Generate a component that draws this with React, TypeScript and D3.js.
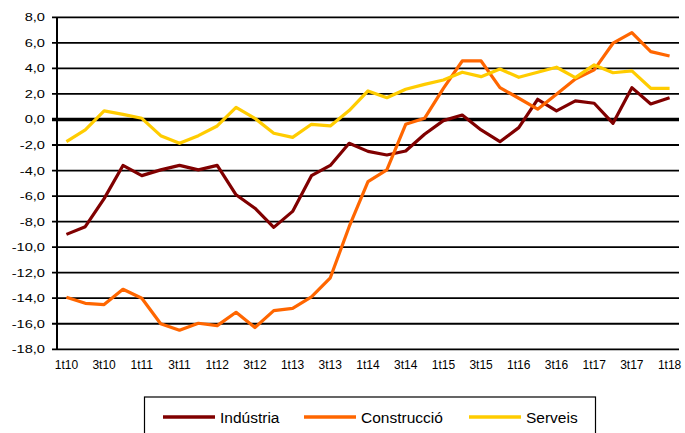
import { useEffect, useRef } from 'react';
import * as d3 from 'd3';

// quarters 1t10 .. 1t18
const quarters = [
  '1t10', '2t10', '3t10', '4t10', '1t11', '2t11', '3t11', '4t11',
  '1t12', '2t12', '3t12', '4t12', '1t13', '2t13', '3t13', '4t13',
  '1t14', '2t14', '3t14', '4t14', '1t15', '2t15', '3t15', '4t15',
  '1t16', '2t16', '3t16', '4t16', '1t17', '2t17', '3t17', '4t17', '1t18',
];

const industria = [
  -9.0, -8.4, -6.2, -3.6, -4.4, -3.95, -3.6, -3.95, -3.6, -5.9, -6.95,
  -8.45, -7.2, -4.4, -3.6, -1.87, -2.5, -2.78, -2.47, -1.16, -0.09, 0.35,
  -0.82, -1.74, -0.64, 1.58, 0.67, 1.45, 1.27, -0.3, 2.49, 1.21, 1.7,
];

const construccio = [
  -13.92, -14.4, -14.5, -13.3, -14.0, -16.0, -16.5, -15.96, -16.15, -15.1,
  -16.3, -14.97, -14.8, -13.9, -12.4, -8.4, -4.87, -3.95, -0.38, 0.09, 2.44,
  4.58, 4.58, 2.49, 1.66, 0.8, 1.97, 3.17, 3.88, 5.97, 6.8, 5.31, 4.97,
];

const serveis = [
  -1.74, -0.82, 0.67, 0.4, 0.09, -1.27, -1.87, -1.27, -0.51, 0.95, 0.09,
  -1.08, -1.4, -0.38, -0.51, 0.7, 2.23, 1.7, 2.36, 2.75, 3.09, 3.7, 3.35,
  3.95, 3.3, 3.7, 4.09, 3.27, 4.27, 3.66, 3.8, 2.44, 2.44,
];

const seriesNames = ['Indústria', 'Construcció', 'Serveis'];
const seriesColors = ['#800000', '#ff6600', '#ffcc00'];
const yTicks = d3.range(-18, 9, 2);

export default function App() {
  const svgRef = useRef<SVGSVGElement>(null);

  useEffect(() => {
    if (!svgRef.current) return;
    const svg = d3.select(svgRef.current);
    svg.selectAll('*').remove();

    const left = 57, right = 679, top = 17.3, bottom = 349.3;

    const x = d3.scaleBand<number>().domain(d3.range(quarters.length)).range([left, right]);
    const y = d3.scaleLinear().domain([-18, 8]).range([bottom, top]);
    const cx = (i: number) => (x(i) as number) + x.bandwidth() / 2;

    // gridlines
    svg.append('g')
      .selectAll('line')
      .data(yTicks)
      .join('line')
      .attr('x1', left - 5)
      .attr('x2', right)
      .attr('y1', (d) => y(d))
      .attr('y2', (d) => y(d))
      .attr('stroke', '#000')
      .attr('stroke-width', (d) => (d === 0 ? 3.5 : 1.8));

    // hide tick stub part of zero line beyond axis? keep same as others
    svg.append('line')
      .attr('x1', left)
      .attr('x2', left)
      .attr('y1', top)
      .attr('y2', bottom)
      .attr('stroke', '#000')
      .attr('stroke-width', 2);

    // y labels (stretched horizontally like the original raster)
    svg.append('g')
      .selectAll('g')
      .data(yTicks)
      .join('g')
      .attr('transform', (d) => `translate(45,${y(d) + 4}) scale(1.33,1)`)
      .append('text')
      .attr('text-anchor', 'end')
      .attr('font-family', 'Liberation Sans, Arial, sans-serif')
      .attr('font-size', 11)
      .attr('fill', '#000')
      .text((d) => d.toFixed(1).replace('.', ','));

    // x labels
    svg.append('g')
      .selectAll('text')
      .data(d3.range(0, quarters.length, 2))
      .join('text')
      .attr('x', (i) => cx(i))
      .attr('y', 369)
      .attr('text-anchor', 'middle')
      .attr('font-family', 'Liberation Sans, Arial, sans-serif')
      .attr('font-size', 12)
      .attr('fill', '#000')
      .text((i) => quarters[i]);

    const line = d3.line<number>()
      .x((_, i) => cx(i))
      .y((d) => y(d));

    [industria, construccio, serveis].forEach((vals, k) => {
      svg.append('path')
        .datum(vals)
        .attr('d', line)
        .attr('fill', 'none')
        .attr('stroke', seriesColors[k])
        .attr('stroke-width', 3.2)
        .attr('stroke-linejoin', 'round');
    });

    // legend
    const lg = svg.append('g');
    lg.append('rect')
      .attr('x', 144.5)
      .attr('y', 397)
      .attr('width', 451)
      .attr('height', 50)
      .attr('fill', '#fff')
      .attr('stroke', '#000')
      .attr('stroke-width', 1.2);
    const legendX = [163, 304, 469];
    seriesNames.forEach((name, k) => {
      lg.append('line')
        .attr('x1', legendX[k])
        .attr('x2', legendX[k] + 52)
        .attr('y1', 417)
        .attr('y2', 417)
        .attr('stroke', seriesColors[k])
        .attr('stroke-width', 3.5);
      lg.append('text')
        .attr('x', legendX[k] + 57)
        .attr('y', 422.5)
        .attr('font-family', 'Liberation Sans, Arial, sans-serif')
        .attr('font-size', 15.5)
        .attr('fill', '#000')
        .text(name);
    });
  }, []);

  return (
    <svg
      ref={svgRef}
      width={685}
      height={433}
      style={{ position: 'absolute', left: 0, top: 0, background: '#fff' }}
    />
  );
}
